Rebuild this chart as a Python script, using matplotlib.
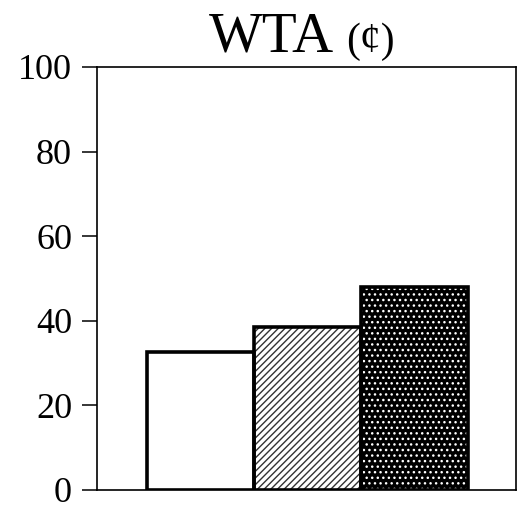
import matplotlib
matplotlib.use("Agg")
import matplotlib.pyplot as plt

# values
conditions = ["A", "B", "C"]
wta_cents = [32.6, 38.6, 48.0]
yticks = [0, 20, 40, 60, 80, 100]

plt.rcParams['font.family'] = ['Liberation Serif', 'DejaVu Serif']
plt.rcParams['hatch.linewidth'] = 1.0

fig = plt.figure(figsize=(5.30, 5.07), dpi=100)
ax = fig.add_axes([97 / 530, 17 / 507, 419 / 530, 423 / 507])

x = list(range(len(conditions)))

# white bar
ax.bar(x[0], wta_cents[0], width=1.0, color="white", edgecolor="black", linewidth=2.6, zorder=3)
# hatched bar
ax.bar(x[1], wta_cents[1], width=1.0, color="white", edgecolor="#333333", hatch="/////", linewidth=0, zorder=2)
ax.bar(x[1], wta_cents[1], width=1.0, color="none", edgecolor="black", linewidth=2.6, zorder=3)
# black bar with white dots
ax.bar(x[2], wta_cents[2], width=1.0, color="black", edgecolor="white", hatch="...", linewidth=0, zorder=2)
ax.bar(x[2], wta_cents[2], width=1.0, color="none", edgecolor="black", linewidth=2.6, zorder=3)

ax.set_xlim(-0.97, 2.95)
ax.set_ylim(0, 100)
ax.set_yticks(yticks)
ax.set_yticklabels([str(t) for t in yticks], fontsize=26)
ax.set_xticks([])
ax.tick_params(axis="y", length=11, width=1.1, pad=7)
for s in ax.spines.values():
    s.set_linewidth(1.2)

fig.text(334 / 530, 1 - 52 / 507, "WTA", fontsize=41, ha="right", va="baseline")
fig.text(346 / 530, 1 - 52 / 507, "(¢)", fontsize=30, ha="left", va="baseline")

fig.savefig("out.png", dpi=100)
